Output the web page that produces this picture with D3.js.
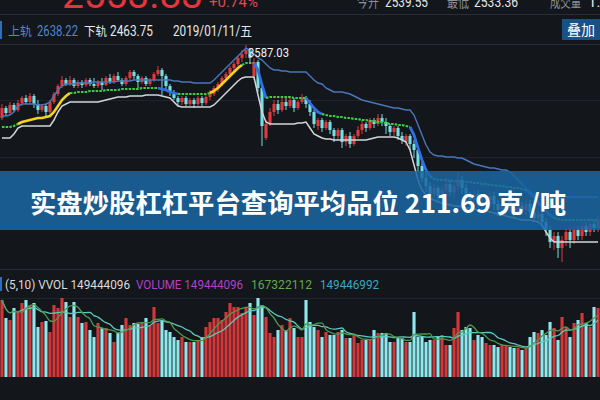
<!DOCTYPE html>
<html><head><meta charset="utf-8">
<script src="https://cdn.jsdelivr.net/npm/d3@7"></script>
<style>html,body{margin:0;padding:0;background:#13161b;overflow:hidden}</style>
</head><body>
<svg id="c" width="600" height="400"></svg>
<script>
// ---------- DATA ----------
const openP = [
3222,3272,3247,3287,3262,3297,3322,3302,3332,3292,
3262,3282,3252,3302,3342,3382,3412,3392,3412,3382,
3402,3387,3412,3392,3382,3402,3387,3422,3402,3432,
3412,3392,3422,3452,3432,3402,3422,3392,3412,3442,
3462,3432,3382,3352,3322,3302,3322,3292,3312,3292,
3322,3297,3327,3342,3372,3392,3422,3442,3472,3492,
3522,3542,3562,3432,3502,3372,3122,3192,3252,3292,
3262,3302,3282,3312,3272,3302,3322,3292,3252,3182,
3212,3172,3202,3162,3132,3162,3102,3132,3092,3132,
3162,3192,3172,3212,3192,3222,3202,3182,3152,3172,
3132,3102,3132,3092,3062,2982,2922,2882,2842,2872,
2832,2862,2892,2852,2882,2912,2872,2832,2812,2842,
2802,2782,2812,2832,2792,2762,2792,2812,2772,2752,
2782,2762,2792,2752,2722,2742,2702,2662,2602,2632,
2572,2612,2652,2612,2662,2632,2682,2652,2692,2672];
const closeP = [
3272,3247,3287,3262,3297,3322,3302,3332,3292,3262,
3282,3252,3302,3342,3382,3412,3392,3412,3382,3402,
3387,3412,3392,3382,3402,3387,3422,3402,3432,3412,
3392,3422,3452,3432,3402,3422,3392,3412,3442,3462,
3432,3382,3352,3322,3302,3322,3292,3312,3292,3322,
3297,3327,3342,3372,3392,3422,3442,3472,3492,3522,
3542,3562,3522,3502,3372,3182,3192,3252,3292,3262,
3302,3282,3312,3272,3302,3322,3292,3252,3192,3212,
3172,3202,3162,3132,3162,3102,3132,3092,3132,3162,
3192,3172,3212,3192,3222,3202,3182,3152,3172,3132,
3112,3132,3092,3062,2982,2922,2882,2842,2872,2832,
2862,2892,2852,2882,2912,2872,2832,2812,2842,2802,
2782,2812,2832,2792,2762,2792,2812,2772,2752,2782,
2762,2792,2752,2722,2742,2702,2662,2602,2632,2572,
2612,2652,2612,2662,2632,2682,2652,2692,2672,2712];
const highP = [
3292,3282,3302,3297,3312,3332,3337,3347,3342,3312,
3292,3292,3312,3352,3392,3432,3422,3432,3422,3412,
3412,3422,3422,3422,3412,3422,3432,3442,3442,3452,
3422,3432,3462,3462,3442,3432,3432,3422,3452,3482,
3472,3442,3392,3362,3332,3332,3332,3322,3322,3332,
3332,3337,3362,3382,3402,3432,3452,3482,3502,3532,
3562,3587.03,3572,3522,3512,3382,3212,3272,3312,3312,
3322,3332,3332,3322,3312,3342,3332,3312,3262,3222,
3222,3212,3212,3172,3172,3172,3142,3152,3142,3182,
3212,3202,3222,3222,3242,3242,3222,3192,3182,3182,
3152,3142,3142,3112,3072,3002,2952,2902,2892,2882,
2882,2922,2912,2902,2952,2932,2892,2852,2862,2862,
2832,2832,2852,2852,2812,2812,2832,2832,2792,2802,
2802,2812,2812,2772,2762,2762,2722,2682,2652,2652,
2632,2672,2672,2682,2682,2702,2702,2722,2712,2732];
const lowP = [
3212,3232,3237,3252,3252,3282,3292,3292,3272,3242,
3252,3232,3242,3292,3332,3372,3382,3382,3372,3372,
3372,3377,3382,3372,3372,3362,3382,3392,3392,3402,
3382,3382,3412,3412,3372,3392,3382,3382,3402,3432,
3337,3362,3332,3312,3282,3287,3282,3282,3272,3282,
3282,3287,3312,3332,3352,3382,3412,3432,3452,3482,
3502,3522,3502,3412,3352,3082,3112,3182,3232,3242,
3252,3262,3272,3252,3262,3292,3272,3232,3172,3162,
3152,3162,3142,3102,3112,3072,3082,3072,3082,3122,
3142,3152,3162,3172,3182,3182,3142,3132,3132,3112,
3092,3082,3062,3022,2952,2902,2852,2812,2822,2802,
2822,2842,2832,2822,2862,2842,2802,2782,2792,2772,
2752,2762,2792,2762,2732,2742,2772,2752,2722,2732,
2742,2742,2732,2702,2702,2672,2632,2572,2562,2522,
2502,2582,2572,2592,2612,2612,2632,2632,2652,2652];
const upperBand = [
3232,3232,3237,3252,3282,3292,3292,3292,3292,3287,
3287,3292,3302,3332,3362,3382,3392,3392,3392,3397,
3397,3397,3397,3402,3402,3402,3402,3402,3402,3407,
3407,3407,3407,3412,3412,3412,3412,3412,3412,3412,
3412,3412,3412,3407,3407,3402,3402,3402,3397,3397,
3397,3397,3397,3412,3432,3452,3472,3492,3512,3532,
3552,3572,3562,3542,3522,3512,3492,3472,3462,3462,
3457,3457,3452,3452,3452,3452,3452,3432,3412,3397,
3392,3372,3362,3352,3352,3352,3347,3342,3332,3322,
3312,3307,3302,3297,3292,3287,3282,3277,3272,3272,
3267,3262,3262,3237,3187,3137,3087,3052,3037,3032,
3032,3027,3027,3027,3022,3022,3012,3002,2992,2987,
2982,2977,2972,2972,2967,2962,2962,2952,2932,2912,
2892,2872,2852,2842,2837,2832,2832,2827,2827,2827,
2827,2827,2827,2827,2827,2827,2827,2827,2827,2827];
const midBand = [
3177,3177,3177,3182,3192,3202,3207,3212,3217,3222,
3222,3227,3232,3252,3282,3312,3332,3347,3347,3352,
3352,3352,3357,3357,3357,3357,3362,3362,3362,3362,
3367,3367,3367,3367,3367,3372,3372,3372,3372,3372,
3367,3362,3352,3347,3342,3342,3342,3342,3342,3342,
3342,3342,3347,3357,3372,3392,3412,3432,3452,3472,
3487,3497,3497,3497,3462,3387,3322,3327,3327,3327,
3327,3327,3327,3322,3322,3322,3322,3297,3272,3252,
3242,3237,3232,3232,3227,3227,3222,3222,3217,3217,
3212,3212,3207,3207,3202,3202,3197,3192,3192,3187,
3187,3182,3177,3137,3072,3012,2962,2932,2917,2912,
2912,2912,2907,2907,2907,2907,2902,2902,2897,2897,
2892,2892,2887,2887,2882,2882,2877,2877,2872,2872,
2867,2862,2847,2827,2802,2777,2757,2737,2722,2717,
2712,2712,2712,2712,2712,2712,2712,2712,2712,2712];
// direction of the middle line: 1 rising, 0 flat, -1 falling
const midTrend = [
0,0,0,0,0,1,1,1,1,1,
1,1,1,1,1,1,1,1,0,0,
0,0,0,0,0,0,0,0,0,0,
0,0,0,0,0,0,0,0,0,0,
-1,-1,-1,-1,-1,0,0,0,0,0,
0,0,0,1,1,1,1,1,1,1,
1,0,0,0,-1,-1,-1,0,0,0,
0,0,0,0,0,0,0,-1,-1,-1,
-1,0,0,0,0,0,0,0,0,0,
0,0,0,0,0,0,0,0,0,0,
0,0,0,-1,-1,-1,-1,-1,0,0,
0,0,0,0,0,0,0,0,0,0,
0,0,0,0,0,0,0,0,0,0,
0,0,-1,-1,-1,-1,-1,-1,-1,0,
0,0,0,0,0,0,0,0,0,0];
const lowerBand = [
3122,3122,3122,3142,3172,3182,3182,3182,3182,3182,
3182,3182,3182,3212,3252,3282,3292,3302,3302,3302,
3302,3302,3302,3302,3302,3307,3312,3317,3322,3327,
3327,3327,3332,3332,3332,3332,3337,3337,3337,3337,
3332,3327,3322,3302,3282,3277,3277,3277,3277,3277,
3277,3277,3277,3287,3307,3327,3347,3367,3387,3407,
3422,3427,3427,3427,3337,3252,3202,3192,3192,3192,
3192,3192,3192,3192,3197,3197,3202,3172,3142,3132,
3122,3117,3117,3112,3112,3112,3112,3112,3112,3112,
3112,3112,3117,3122,3127,3127,3127,3127,3127,3122,
3112,3102,3062,2987,2912,2862,2837,2822,2812,2802,
2797,2792,2787,2782,2782,2777,2772,2772,2767,2762,
2762,2757,2752,2747,2742,2737,2732,2727,2722,2717,
2712,2712,2712,2707,2702,2687,2652,2622,2602,2602,
2602,2602,2602,2602,2602,2602,2602,2602,2602,2602];
// volume, millions of shares
const volume = [
192.5,147.5,142.5,172.5,162.5,185,192.5,180,185,125,
137.5,140,112.5,180,172.5,197.5,187.5,150,187.5,150,
135,137.5,117.5,100,135,122.5,122.5,110,87.5,110,
130,147.5,130,135,132.5,135,147.5,127.5,175,135,
142.5,117.5,112.5,100,92.5,100,87.5,87.5,87.5,92.5,
100,125,137.5,147.5,147.5,142.5,162.5,185,175,175,
160,175,185,155,197.5,180,150,110,100,117.5,
130,117.5,147.5,122.5,100,100,192.5,137.5,125,117.5,
100,112.5,105,105,112.5,117.5,97.5,97.5,105,85,
92.5,92.5,92.5,117.5,110,110,110,87.5,87.5,97.5,
97.5,87.5,87.5,162.5,100,100,87.5,92.5,92.5,100,
105,80,80,122.5,162.5,117.5,125,122.5,92.5,105,
100,85,80,80,75,80,80,75,72.5,72.5,
67.5,72.5,100,112.5,110,117.5,105,137.5,122.5,92.5,
150,125,100,135,142.5,160,135,125,175,172.5];

const quoteClose = "2553.83", quoteChange = "+0.74%";
const quoteOpen = "2539.55", quoteLow = "2533.36", quoteVol = "1.";
const upperLabel = "2638.22", lowerLabel = "2463.75", dateLabel = "2019/01/11/五";
const peakLabel = "3587.03";
const volLabels = ["(5,10) VVOL 149444096", "VOLUME 149444096", "167322112", "149446992"];
const bannerText = "实盘炒股杠杠平台查询平均品位 211.69 克 /吨";

// ---------- DRAW ----------
const W = 600, H = 400, N = closeP.length;
const svg = d3.select('#c');
const FN = "Roboto, 'Noto Sans CJK SC', sans-serif";
const CJK = "'Noto Sans CJK SC', Roboto, sans-serif";

svg.append('rect').attr('width', W).attr('height', H).attr('fill', '#13161b');

const x = d3.scaleBand().domain(d3.range(N)).range([0, W]).paddingInner(0.22).paddingOuter(0.1);
const bw = x.bandwidth();
const cx = i => x(i) + bw / 2;
const y = d3.scaleLinear().domain([2502, 3587]).range([262, 45]);
const yv = d3.scaleLinear().domain([0, 200]).range([377, 297]);

// separators & grid
[[14,'#2a2d33'],[44,'#2a2d33'],[100,'#20232a'],[157,'#20232a'],[214,'#20232a'],[269,'#2a2d33'],[298,'#20232a']]
  .forEach(([yy,c]) => svg.append('line').attr('x1',0).attr('x2',W).attr('y1',yy+0.5).attr('y2',yy+0.5).attr('stroke',c).attr('stroke-width',1));

function txt(s, xx, yy, size, color, opts={}) {
  const t = svg.append('text').attr('x', xx).attr('y', yy).attr('font-size', size)
    .attr('font-family', opts.family || FN).attr('fill', color).text(s);
  if (opts.len) t.attr('textLength', opts.len).attr('lengthAdjust', 'spacingAndGlyphs');
  if (opts.weight) t.attr('font-weight', opts.weight);
  if (opts.anchor) t.attr('text-anchor', opts.anchor);
  return t;
}
// header row 1 (cut at top like the reference)
txt(quoteClose, 62, 8, 38, '#e5343b', {len: 141});
txt(quoteChange, 209, 7, 15, '#dd4a50', {len: 49});
txt('今开', 357, 7, 15, '#8c9097', {family: CJK, len: 22});
txt(quoteOpen, 385, 7, 15, '#e4e6e8', {len: 43});
txt('最低', 447, 7, 15, '#8c9097', {family: CJK, len: 22});
txt(quoteLow, 474, 7, 15, '#e4e6e8', {len: 44});
txt('成交量', 550, 7, 15, '#8c9097', {family: CJK, len: 31});
txt(quoteVol, 588, 7, 15, '#e4e6e8');

// header row 2
svg.append('rect').attr('x', 0).attr('y', 21).attr('width', 2).attr('height', 18).attr('fill', '#2f6fb8');
txt('上轨', 8, 36, 12.5, '#4f86cf', {family: CJK, len: 24});
txt(upperLabel, 37, 36, 14, '#4f86cf', {len: 41});
txt('下轨', 84, 36, 12.5, '#e8e8e8', {family: CJK, len: 23});
txt(lowerLabel, 110, 36, 14, '#e8e8e8', {len: 43});
txt(dateLabel, 173, 36, 14, '#e8e8e8', {len: 79});
svg.append('rect').attr('x', 562).attr('y', 19).attr('width', 38).attr('height', 21).attr('fill', '#1a5184');
txt('叠加', 581, 35, 14, '#ffffff', {family: CJK, anchor: 'middle'});

// price panel
svg.append('clipPath').attr('id', 'pc').append('rect').attr('x', 0).attr('y', 44).attr('width', W).attr('height', 225);
const gp = svg.append('g').attr('clip-path', 'url(#pc)');
const UP = '#e0393e', DN = '#76dfe3';
const idx = d3.range(N);
const isUp = i => closeP[i] >= openP[i];
gp.selectAll('line.w').data(idx).join('line')
  .attr('x1', i => cx(i)).attr('x2', i => cx(i))
  .attr('y1', i => y(Math.max(highP[i], openP[i], closeP[i])))
  .attr('y2', i => y(Math.min(lowP[i], openP[i], closeP[i])))
  .attr('stroke', i => isUp(i) ? UP : DN).attr('stroke-width', 1);
gp.selectAll('rect.b').data(idx).join('rect')
  .attr('x', i => x(i)).attr('width', bw)
  .attr('y', i => y(Math.max(openP[i], closeP[i])))
  .attr('height', i => Math.max(1, Math.abs(y(openP[i]) - y(closeP[i]))))
  .attr('fill', i => isUp(i) ? UP : DN);

const line = arr => d3.line().x(i => cx(i)).y(i => y(arr[i]))(idx);
gp.append('path').attr('d', line(upperBand)).attr('fill', 'none').attr('stroke', '#4a76ba').attr('stroke-width', 1.4);
gp.append('path').attr('d', line(lowerBand)).attr('fill', 'none').attr('stroke', '#d3d6d9').attr('stroke-width', 1.5);

// middle line coloured by direction
const trendStyle = {'1': {c: '#f2d31f', w: 2.6, d: null}, '0': {c: '#3fcf45', w: 2.2, d: '2.5,1.2'}, '-1': {c: '#2f6fe3', w: 2.8, d: null}};
let runs = [], start = 0;
for (let i = 1; i <= N; i++) {
  if (i === N || midTrend[i] !== midTrend[start]) { runs.push([start, i - 1, midTrend[start]]); start = i; }
}
runs.forEach(([a, b, t]) => {
  const ids = d3.range(Math.max(0, a - 1), b + 1);
  const st = trendStyle[String(t)];
  const p = gp.append('path').attr('d', d3.line().x(i => cx(i)).y(i => y(midBand[i]))(ids))
    .attr('fill', 'none').attr('stroke', st.c).attr('stroke-width', st.w);
  if (st.d) p.attr('stroke-dasharray', st.d);
});

// peak label
const peakIdx = d3.maxIndex(highP);
txt(peakLabel, cx(peakIdx) + 2, 57, 13, '#f0f0f0', {len: 41});

// volume header
svg.append('rect').attr('x', 0).attr('y', 277).attr('width', 2).attr('height', 14).attr('fill', '#2f6fb8');
txt(volLabels[0], 5, 289, 12, '#dcdcdc', {len: 125});
txt(volLabels[1], 136, 289, 12, '#b540c8', {len: 107});
txt(volLabels[2], 251, 289, 12, '#62a84e', {len: 61});
txt(volLabels[3], 320, 289, 12, '#3aa8c4', {len: 59});

// volume bars
const gv = svg.append('g');
gv.selectAll('rect').data(idx).join('rect')
  .attr('x', i => x(i)).attr('width', bw)
  .attr('y', i => yv(volume[i])).attr('height', i => yv(0) - yv(volume[i]))
  .attr('fill', i => isUp(i) ? '#d2383a' : '#8ee8ec');
const ma = n => idx.map(i => d3.mean(volume.slice(Math.max(0, i - n + 1), i + 1)));
const ma5 = ma(5), ma10 = ma(10);
const vline = arr => d3.line().x(i => cx(i)).y(i => yv(arr[i])).curve(d3.curveMonotoneX)(idx);
gv.append('path').attr('d', vline(ma10)).attr('fill', 'none').attr('stroke', '#5cc9bd').attr('stroke-width', 1.3);
gv.append('path').attr('d', vline(ma5)).attr('fill', 'none').attr('stroke', '#4f9a4c').attr('stroke-width', 1.3);

// banner overlay
svg.append('rect').attr('x', 0).attr('y', 171).attr('width', W).attr('height', 59).attr('fill', '#1b67a2').attr('opacity', 0.86);
txt(bannerText, 30, 213, 26, '#ffffff', {family: CJK, weight: 'bold', len: 536});
</script>
</body></html>
